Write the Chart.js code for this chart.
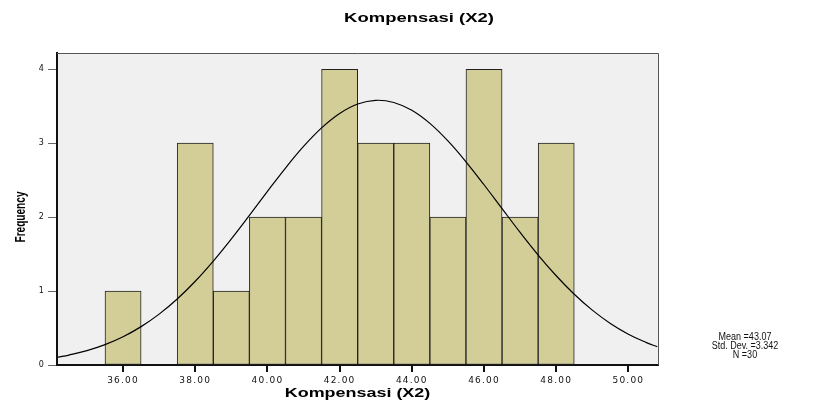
<!DOCTYPE html>
<html>
<head>
<meta charset="utf-8">
<script src="https://cdn.jsdelivr.net/npm/chart.js@4"></script>
<style>
  html, body { margin: 0; padding: 0; background: #fff; }
  #wrap { width: 827px; height: 401px; }
</style>
</head>
<body>
<div id="wrap"><canvas id="hist"></canvas></div>
<script>
// Histogram bins (midpoints) and counts
const binMids = [36, 37, 38, 39, 40, 41, 42, 43, 44, 45, 46, 47, 48];
const binCounts = [1, 0, 3, 1, 2, 2, 4, 3, 3, 2, 4, 2, 3];

// Normal curve
const curveX = [34.2, 34.5, 35, 35.5, 36, 36.5, 37, 37.5, 38, 38.5, 39, 39.5, 40, 40.5, 41, 41.5,
  42, 42.5, 43, 43.5, 44, 44.5, 45, 45.5, 46, 46.5, 47, 47.5, 48, 48.5, 49, 49.5, 50, 50.5, 50.8];
const curveY = [0.106, 0.134, 0.194, 0.275, 0.382, 0.519, 0.688, 0.893, 1.133, 1.406, 1.706, 2.024,
  2.348, 2.664, 2.956, 3.207, 3.402, 3.530, 3.580, 3.551, 3.445, 3.268, 3.031, 2.749, 2.438, 2.115,
  1.793, 1.487, 1.207, 0.957, 0.742, 0.562, 0.417, 0.303, 0.247];

const xTicks = [36, 38, 40, 42, 44, 46, 48, 50];
const yTicks = [0, 1, 2, 3, 4];
const statLines = ['Mean =43.07', 'Std. Dev. =3.342', 'N =30'];

const chartTitle = 'Kompensasi (X2)';
const xTitle = 'Kompensasi (X2)';
const yTitle = 'Frequency';

// text squeezed or stretched along its own direction
function wideText(ctx, text, x, y, sx) {
  ctx.save();
  ctx.translate(x, y);
  ctx.scale(sx, 1);
  ctx.fillText(text, 0, 0);
  ctx.restore();
}

// plot background, frame, x tick marks and all free text
const decor = {
  id: 'decor',
  beforeDraw(chart) {
    const { ctx, chartArea: a } = chart;
    ctx.save();
    ctx.fillStyle = '#f0f0f0';
    ctx.fillRect(a.left, a.top, a.right - a.left, a.bottom - a.top);
    ctx.restore();
    ctx.letterSpacing = '1.2px';
  },
  afterDraw(chart) {
    const { ctx, chartArea: a } = chart;
    const xs = chart.scales.x;
    ctx.letterSpacing = '0px';
    ctx.save();
    ctx.strokeStyle = '#555';
    ctx.lineWidth = 1;
    ctx.beginPath();
    ctx.moveTo(a.left, a.top + 0.5);
    ctx.lineTo(a.right + 0.5, a.top + 0.5);
    ctx.lineTo(a.right + 0.5, a.bottom);
    ctx.stroke();

    ctx.fillStyle = '#111';
    xTicks.forEach(v => {
      const px = Math.round(xs.getPixelForValue(v));
      ctx.fillRect(px - 1, xs.top + 1, 2, 6);
    });

    ctx.fillStyle = '#000';
    ctx.textAlign = 'center';
    ctx.textBaseline = 'middle';
    ctx.font = 'bold 13px "Liberation Sans"';
    wideText(ctx, chartTitle, 419, 18, 1.42);
    wideText(ctx, xTitle, (a.left + a.right) / 2, 393, 1.38);

    ctx.font = '10px "Liberation Sans"';
    ctx.fillStyle = '#111';
    statLines.forEach((t, i) => wideText(ctx, t, 745, 337 + i * 9, 0.9));

    ctx.translate(21, 217);
    ctx.rotate(-Math.PI / 2);
    ctx.fillStyle = '#000';
    ctx.font = 'bold 14px "Liberation Sans"';
    wideText(ctx, yTitle, 0, 0, 0.72);
    ctx.restore();
  }
};

new Chart(document.getElementById('hist'), {
  type: 'bar',
  data: {
    datasets: [
      {
        type: 'line',
        data: curveX.map((x, i) => ({ x, y: curveY[i] })),
        borderColor: '#000',
        borderWidth: 1.2,
        pointRadius: 0,
        fill: false,
        tension: 0.4,
        order: 0
      },
      {
        data: binMids.map((x, i) => ({ x, y: binCounts[i] })),
        backgroundColor: '#d3ce98',
        borderColor: '#222',
        borderWidth: 1,
        borderSkipped: false,
        barPercentage: 1,
        categoryPercentage: 1,
        order: 1
      }
    ]
  },
  options: {
    responsive: true,
    maintainAspectRatio: false,
    animation: false,
    layout: { padding: { top: 53, right: 169, left: 0, bottom: 0 } },
    plugins: {
      legend: { display: false },
      tooltip: { enabled: false },
      title: { display: false }
    },
    scales: {
      x: {
        type: 'linear',
        min: 34.17,
        max: 50.82,
        offset: false,
        afterBuildTicks: s => { s.ticks = xTicks.map(v => ({ value: v })); },
        afterFit: s => { s.height = 36; },
        border: { display: true, color: '#111', width: 2 },
        grid: { offset: false, drawOnChartArea: false, drawTicks: false },
        ticks: {
          color: '#111',
          font: { family: 'DejaVu Sans', size: 9 },
          padding: 10,
          maxRotation: 0,
          callback: v => v.toFixed(2)
        }
      },
      y: {
        min: 0,
        max: 4.22,
        afterBuildTicks: s => { s.ticks = yTicks.map(v => ({ value: v })); },
        afterFit: s => { s.width = 57; },
        border: { display: true, color: '#111', width: 2 },
        grid: { drawOnChartArea: false, drawTicks: true, tickLength: 9, color: '#666', lineWidth: 1 },
        ticks: {
          color: '#111',
          font: { family: 'DejaVu Sans', size: 8 },
          padding: 3
        }
      }
    }
  },
  plugins: [decor]
});
</script>
</body>
</html>
